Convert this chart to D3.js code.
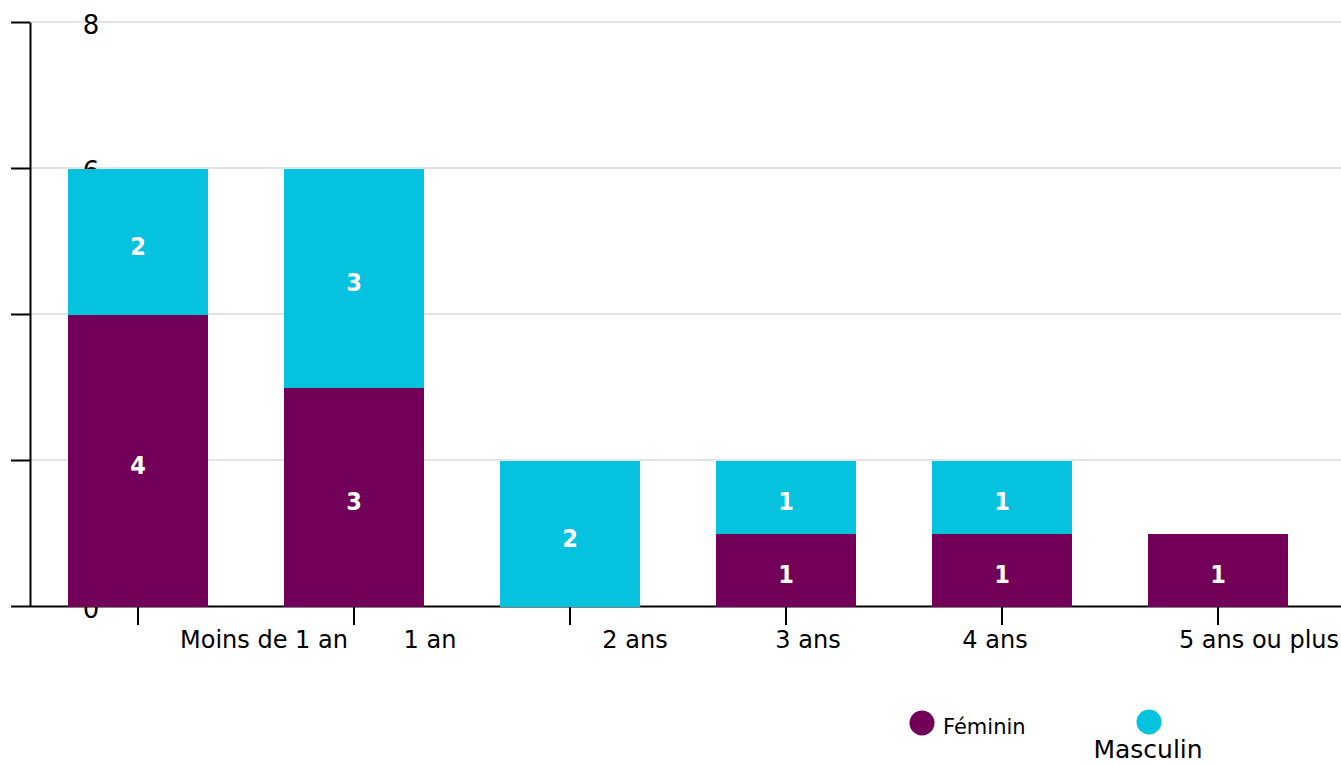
<!DOCTYPE html>
<html>
<head>
<meta charset="utf-8">
<script src="https://cdn.jsdelivr.net/npm/d3@7"></script>
<style>
  html, body { margin: 0; padding: 0; background: #fff; }
  svg { display: block; }
  text { font-family: "DejaVu Sans", sans-serif; }
</style>
</head>
<body>
<svg id="chart" width="1341" height="764"></svg>
<script>
// Ancienneté par sexe
const categories = ["Moins de 1 an", "1 an", "2 ans", "3 ans", "4 ans", "5 ans ou plus"];
const feminin = [4, 3, 0, 1, 1, 1];
const masculin = [2, 3, 2, 1, 1, 0];
const seriesNames = ["Féminin", "Masculin"];
const yTicks = [0, 2, 4, 6, 8];

const colors = { "Féminin": "#720058", "Masculin": "#05c3de" };

// horizontal nudges of the category labels relative to their tick
const labelShift = [126, 76, 65, 22, -7, 41];

const svg = d3.select("#chart");
const plotLeft = 30, plotRight = 1326, plotTop = 23, plotBottom = 607;

const x = d3.scaleBand()
  .domain(categories)
  .range([plotLeft, plotRight])
  .paddingInner(0.35)
  .paddingOuter(0.175);

const y = d3.scaleLinear().domain([0, 8]).range([plotBottom, plotTop]);

const rows = categories.map((c, i) => ({ cat: c, "Féminin": feminin[i], "Masculin": masculin[i] }));
const stacked = d3.stack().keys(seriesNames)(rows);

// gridlines
svg.append("g")
  .selectAll("line")
  .data(yTicks.filter(t => t > 0))
  .join("line")
  .attr("x1", plotLeft).attr("x2", 1341)
  .attr("y1", d => y(d) - 1).attr("y2", d => y(d) - 1)
  .attr("stroke", "#e3e3e3").attr("stroke-width", 2);

// y axis (labels sit inside the plot, behind the bars)
const yAxis = svg.append("g")
  .attr("transform", `translate(${plotLeft},-1)`)
  .call(d3.axisLeft(y).tickValues(yTicks).tickSize(19).tickSizeOuter(0).tickFormat(d3.format("d")));
yAxis.select(".domain").attr("stroke", "#000").attr("stroke-width", 2);
yAxis.selectAll(".tick line").attr("stroke", "#000").attr("stroke-width", 2);
yAxis.selectAll(".tick text")
  .attr("x", 61).attr("dy", "0.45em")
  .attr("text-anchor", "middle")
  .attr("fill", "#000")
  .style("font-size", "26px");

// x axis
const xAxis = svg.append("g")
  .attr("transform", `translate(0,${plotBottom - 1})`)
  .call(d3.axisBottom(x).tickSize(19).tickSizeOuter(0));
xAxis.select(".domain").attr("d", `M${plotLeft},0.5H1341`).attr("stroke", "#000").attr("stroke-width", 2);
xAxis.selectAll(".tick line").attr("stroke", "#000").attr("stroke-width", 2);
xAxis.selectAll(".tick text")
  .attr("x", (d, i) => labelShift[i])
  .attr("y", 42)
  .attr("dy", 0)
  .attr("text-anchor", "middle")
  .attr("fill", "#000")
  .style("font-size", "24px");

// stacked bars
const layers = svg.append("g")
  .selectAll("g")
  .data(stacked)
  .join("g")
  .attr("fill", d => colors[d.key]);

layers.selectAll("rect")
  .data(d => d.filter(s => s[1] > s[0]))
  .join("rect")
  .attr("x", d => Math.round(x(d.data.cat)))
  .attr("width", Math.round(x.bandwidth()))
  .attr("y", d => Math.round(y(d[1])))
  .attr("height", d => Math.round(y(d[0])) - Math.round(y(d[1])))
  .attr("shape-rendering", "crispEdges");

// segment value labels
layers.selectAll("text")
  .data(d => d.filter(s => s[1] > s[0]))
  .join("text")
  .attr("x", d => x(d.data.cat) + x.bandwidth() / 2)
  .attr("y", d => (y(d[0]) + y(d[1])) / 2)
  .attr("dy", "0.5em")
  .attr("text-anchor", "middle")
  .attr("fill", "#fff")
  .style("font-family", "'Liberation Sans Narrow', 'DejaVu Sans Condensed', sans-serif")
  .style("font-weight", "bold")
  .style("font-size", "25px")
  .text(d => d[1] - d[0]);

// legend
const legend = svg.append("g");
const fem = legend.append("g").attr("transform", "translate(922,723)");
fem.append("circle").attr("r", 12.5).attr("fill", colors["Féminin"]);
fem.append("text").attr("x", 21).attr("y", 11).style("font-size", "21px").attr("fill", "#000").text(seriesNames[0]);
const mas = legend.append("g").attr("transform", "translate(1149,722)");
mas.append("circle").attr("r", 12.5).attr("fill", colors["Masculin"]);
mas.append("text").attr("x", -1).attr("y", 36).attr("text-anchor", "middle").style("font-size", "25px").attr("fill", "#000").text(seriesNames[1]);
</script>
</body>
</html>
